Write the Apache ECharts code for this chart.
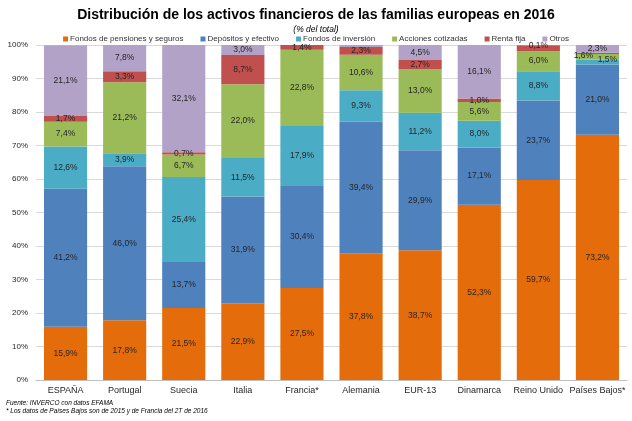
<!DOCTYPE html>
<html><head><meta charset="utf-8">
<script src="https://cdn.jsdelivr.net/npm/echarts@6/dist/echarts.min.js"></script>
<style>html,body{margin:0;padding:0;background:#fff}#c{width:632px;height:421px}</style>
</head><body><div id="c"></div>
<script>
const categories = ['ESPAÑA','Portugal','Suecia','Italia','Francia*','Alemania','EUR-13','Dinamarca','Reino Unido','Países Bajos*'];
const seriesNames = ['Fondos de pensiones y seguros','Depósitos y efectivo','Fondos de inversión','Acciones cotizadas','Renta fija','Otros'];
const pensiones = [15.9,17.8,21.5,22.9,27.5,37.8,38.7,52.3,59.7,73.2];
const depositos = [41.2,46.0,13.7,31.9,30.4,39.4,29.9,17.1,23.7,21.0];
const inversion = [12.6,3.9,25.4,11.5,17.9,9.3,11.2,8.0,8.8,1.5];
const acciones  = [7.4,21.2,6.7,22.0,22.8,10.6,13.0,5.6,6.0,1.6];
const rentaFija = [1.7,3.3,0.7,8.7,1.4,2.3,2.7,1.0,1.7,0.4];
const otros     = [21.1,7.8,32.1,3.0,0,0.6,4.5,16.1,0.1,2.3];
const yTicks = [0,10,20,30,40,50,60,70,80,90,100];
// labels not printed in the reference: [seriesIndex, categoryIndex]
const hiddenLabels = [[4,8],[4,9],[5,4],[5,5]];

const colors = ['#E46C0A','#4F81BD','#4BACC6','#9BBB59','#C0504D','#B3A2C7'];
const allData = [pensiones,depositos,inversion,acciones,rentaFija,otros];
const FF = 'Liberation Sans, Arial';

const chart = echarts.init(document.getElementById('c'));
function isHidden(s,i){return hiddenLabels.some(h=>h[0]===s&&h[1]===i);}
const series = allData.map((arr,s)=>({
  name: seriesNames[s], type:'bar', stack:'t', barCategoryGap:'27%',
  itemStyle:{color:colors[s]},
  data: arr.map((v,i)=>{
    const item = {value:v};
    if (isHidden(s,i) || v===0) item.label={show:false};
    if (s===3 && i===9) item.label={show:true, offset:[-14,-1]};
    if (s===2 && i===9) item.label={show:true, offset:[10,-2]};
    return item;
  }),
  label:{show:true, position:'inside', fontSize:8.5, color:'#262626', fontFamily:FF,
    formatter:p=>p.value.toFixed(1).replace('.',',')+'%'}
}));

chart.setOption({
  animation:false,
  title:{text:'Distribución de los activos financieros de las familias europeas en 2016',
    subtext:'(% del total)', left:'center', top:3, itemGap:3,
    textStyle:{fontSize:14, fontWeight:'bold', color:'#000', fontFamily:FF},
    subtextStyle:{fontSize:8.5, fontStyle:'italic', color:'#000', fontFamily:FF}},
  legend:{data:seriesNames, top:30, left:'center', itemWidth:5, itemHeight:5, itemGap:17,
    icon:'rect', textStyle:{fontSize:8, color:'#333', padding:[0,0,0,-3], fontFamily:FF}},
  grid:{left:36, right:5, top:45, bottom:41},
  xAxis:{type:'category', data:categories,
    axisLine:{lineStyle:{color:'#bfbfbf'}}, axisTick:{show:false},
    axisLabel:{fontSize:9, color:'#262626', margin:6, interval:0, fontFamily:FF}},
  yAxis:{type:'value', min:0, max:100, interval:10,
    axisLabel:{formatter:v=>v+'%', fontSize:8, color:'#262626', fontFamily:FF},
    splitLine:{lineStyle:{color:'#d9d9d9'}}, axisLine:{show:false}, axisTick:{show:false}},
  graphic:[
    {type:'text', left:6, top:400, style:{text:'Fuente: INVERCO con datos EFAMA', fontSize:6.5, fontStyle:'italic', fill:'#000', fontFamily:FF}},
    {type:'text', left:6, top:408, style:{text:'* Los datos de Países Bajos son de 2015 y de Francia del 2T de 2016', fontSize:6.5, fontStyle:'italic', fill:'#000', fontFamily:FF}}
  ],
  series: series
});
</script></body></html>
